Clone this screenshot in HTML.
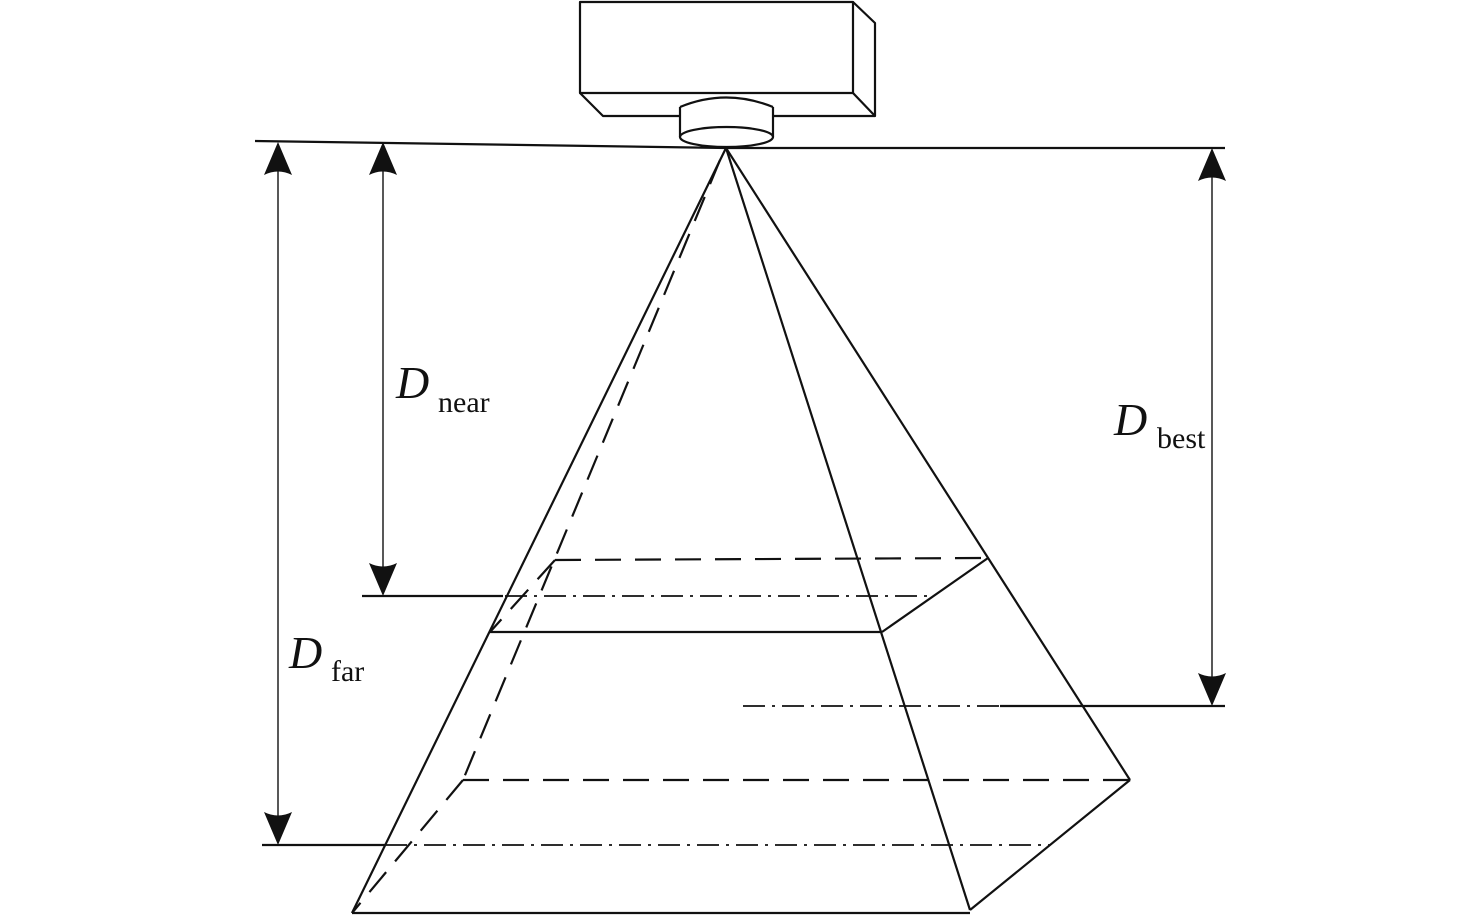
<!DOCTYPE html>
<html><head><meta charset="utf-8"><style>
html,body{margin:0;padding:0;background:#fff;width:1476px;height:916px;overflow:hidden}
svg{display:block}
text{font-family:"Liberation Serif",serif;fill:#111}
</style></head><body>
<svg width="1476" height="916" viewBox="0 0 1476 916" xmlns="http://www.w3.org/2000/svg">
<g stroke="#111" fill="none" stroke-width="2.2" stroke-linejoin="round">
<!-- camera box -->
<rect x="580" y="2" width="273" height="91"/>
<polyline points="853,2 875,23 875,116 853,93"/>
<polyline points="580,93 603,116 680,116"/>
<line x1="773" y1="116" x2="875" y2="116"/>
<!-- lens -->
<path d="M680,107 Q726,88 773,107"/>
<line x1="680" y1="107" x2="680" y2="137"/>
<line x1="773" y1="107" x2="773" y2="137"/>
<ellipse cx="726.5" cy="137" rx="46.5" ry="10"/>
<!-- top reference line -->
<polyline points="255,141 726,148 1225,148"/>
<!-- pyramid solid edges -->
<line x1="726" y1="148" x2="352" y2="913"/>
<line x1="726" y1="148" x2="970" y2="910"/>
<line x1="726" y1="148" x2="1130" y2="780"/>
<line x1="352" y1="913" x2="970" y2="913"/>
<line x1="970" y1="910" x2="1130" y2="780"/>
<line x1="490" y1="632" x2="882" y2="632"/>
<line x1="882" y1="632" x2="988" y2="558"/>
</g>
<g stroke="#111" fill="none" stroke-width="2.2" stroke-dasharray="26,14">
<line x1="720" y1="160" x2="463" y2="780"/>
<line x1="555" y1="560" x2="988" y2="558"/>
<line x1="463" y1="780" x2="1130" y2="780"/>
<line x1="555" y1="560" x2="490" y2="632"/>
<line x1="463" y1="780" x2="352" y2="913"/>
</g>
<g stroke="#111" fill="none" stroke-width="1.8" stroke-dasharray="22,7,3,7">
<line x1="505" y1="596" x2="930" y2="596"/>
<line x1="743" y1="706" x2="1000" y2="706"/>
<line x1="385" y1="845" x2="1050" y2="845"/>
</g>
<g stroke="#111" fill="none" stroke-width="2.2">
<line x1="362" y1="596" x2="503" y2="596"/>
<line x1="1000" y1="706" x2="1225" y2="706"/>
<line x1="262" y1="845" x2="385" y2="845"/>
</g>
<!-- dimension lines -->
<g stroke="#111" stroke-width="1.4">
<line x1="278" y1="150" x2="278" y2="838"/>
<line x1="383" y1="150" x2="383" y2="590"/>
<line x1="1212" y1="155" x2="1212" y2="700"/>
</g>
<g fill="#111">
<path d="M278,142 L292,175 Q278,168 264,175 Z"/>
<path d="M278,845 L292,812 Q278,819 264,812 Z"/>
<path d="M383,142 L397,175 Q383,168 369,175 Z"/>
<path d="M383,596 L397,563 Q383,570 369,563 Z"/>
<path d="M1212,148 L1226,181 Q1212,174 1198,181 Z"/>
<path d="M1212,706 L1226,673 Q1212,680 1198,673 Z"/>
</g>
<!-- labels -->
<text x="396" y="398" font-size="46" font-style="italic">D</text>
<text x="438" y="412" font-size="30">near</text>
<text x="1114" y="435" font-size="46" font-style="italic">D</text>
<text x="1157" y="448" font-size="30">best</text>
<text x="289" y="668" font-size="46" font-style="italic">D</text>
<text x="331" y="681" font-size="30">far</text>
</svg>
</body></html>
